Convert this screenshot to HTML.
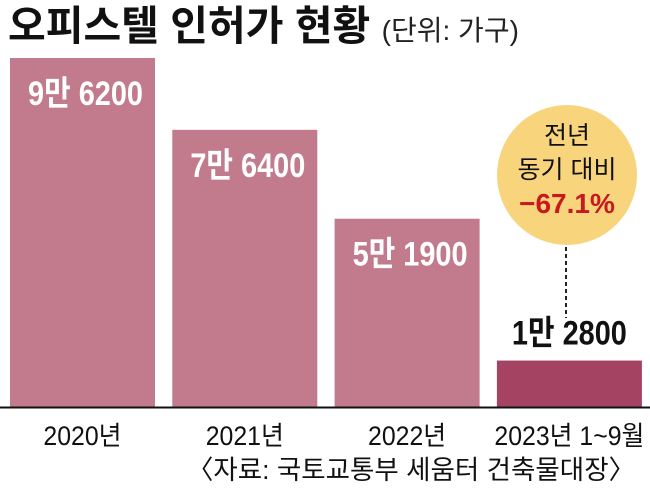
<!DOCTYPE html>
<html><head><meta charset="utf-8"><style>
body{margin:0;background:#fff;}
svg text{font-family:"Liberation Sans","Noto Sans CJK KR",sans-serif;}
</style></head><body>
<svg width="650" height="495" viewBox="0 0 650 495" xmlns="http://www.w3.org/2000/svg">
<text x="8" y="40" font-size="41" font-weight="bold" fill="#111">오피스텔 인허가 현황 <tspan font-size="28" font-weight="normal" fill="#222">(단위: 가구)</tspan></text>
<g id="bars"></g>
<line x1="0" y1="407.5" x2="650" y2="407.5" stroke="#111" stroke-width="2"/>
<circle cx="567" cy="175" r="70" fill="#f8d47c"/>
<text x="567" y="144" font-size="25" text-anchor="middle" fill="#111">전년</text>
<text x="567" y="178" font-size="25" text-anchor="middle" fill="#111">동기 대비</text>
<text x="567" y="213" font-size="28" font-weight="bold" text-anchor="middle" fill="#c8191f">−67.1%</text>
<line x1="566" y1="247" x2="566" y2="318" stroke="#222" stroke-width="2" stroke-dasharray="4,3"/>
<text x="411" y="479" font-size="26.5" text-anchor="middle" fill="#111">〈자료: 국토교통부 세움터 건축물대장〉</text>
</svg>
<script>
const categories=["2020년","2021년","2022년","2023년 1~9월"];
const values=[96200,76400,51900,12800];
const valueLabels=["9만 6200","7만 6400","5만 1900","1만 2800"];
const ns="http://www.w3.org/2000/svg";
const g=document.getElementById("bars");
const base=407, maxH=349, maxV=96200;
const y=v=>base-v/maxV*maxH;
const x0=i=>10+i*162.3, bw=145;
categories.forEach((c,i)=>{
  const r=document.createElementNS(ns,"rect");
  
  
  r.setAttribute("x",x0(i));r.setAttribute("y",y(values[i]));
  r.setAttribute("width",bw);r.setAttribute("height",base-y(values[i]));
  r.setAttribute("fill",i===3?"#a54363":"#c27a8d");
  g.appendChild(r);
  const t=document.createElementNS(ns,"text");
  
  
  const last=i===3;
  const cx=x0(i)+bw/2+(last?0:3);
  t.setAttribute("x",cx);
  t.setAttribute("y",last?y(values[i])-16:y(values[i])+47);
  t.setAttribute("text-anchor","middle");
  t.setAttribute("font-size","34");t.setAttribute("font-weight","bold");
  t.setAttribute("fill",last?"#111":"#fff");
  t.setAttribute("transform","translate("+cx+",0) scale(0.85,1) translate("+(-cx)+",0)");
  t.textContent=valueLabels[i];
  g.appendChild(t);
  const l=document.createElementNS(ns,"text");
  
  
  l.setAttribute("x",x0(i)+bw/2);l.setAttribute("y",445);
  l.setAttribute("text-anchor","middle");l.setAttribute("font-size","27");
  l.setAttribute("fill","#111");
  l.setAttribute("transform","translate("+(x0(i)+bw/2)+",0) scale(0.92,1) translate("+(-(x0(i)+bw/2))+",0)");
  l.textContent=c;
  g.appendChild(l);
});
</script>
</body></html>
